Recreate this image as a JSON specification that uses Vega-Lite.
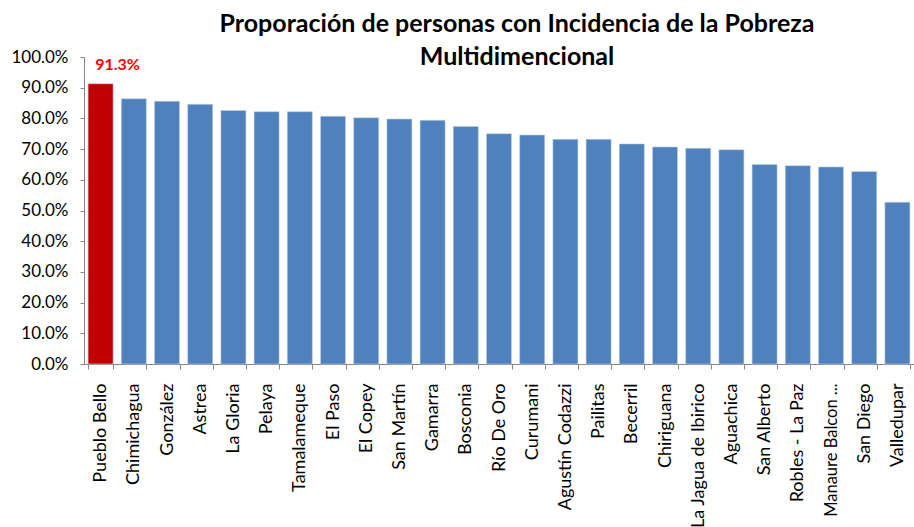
{
  "$schema": "https://vega.github.io/schema/vega-lite/v6.json",
  "width": 830,
  "height": 307,
  "autosize": {"type": "none"},
  "padding": {"left": 84, "top": 57, "right": 0, "bottom": 163},
  "background": "white",
  "title": {
    "text": ["Proporación de personas con Incidencia de la Pobreza", "Multidimencional"],
    "font": "Lato",
    "fontSize": 25,
    "fontWeight": "bold",
    "color": "#000000",
    "anchor": "middle",
    "frame": "group",
    "dx": 18,
    "lineHeight": 33,
    "offset": -22
  },
  "config": {
    "view": {"stroke": null},
    "font": "Lato"
  },
  "data": {
    "values": [
      {"municipio": "Pueblo Bello", "valor": 0.913},
      {"municipio": "Chimichagua", "valor": 0.864},
      {"municipio": "González", "valor": 0.856},
      {"municipio": "Astrea", "valor": 0.846},
      {"municipio": "La Gloria", "valor": 0.826},
      {"municipio": "Pelaya", "valor": 0.822},
      {"municipio": "Tamalameque", "valor": 0.822},
      {"municipio": "El Paso", "valor": 0.807},
      {"municipio": "El Copey", "valor": 0.802},
      {"municipio": "San Martín", "valor": 0.798},
      {"municipio": "Gamarra", "valor": 0.794},
      {"municipio": "Bosconia", "valor": 0.774},
      {"municipio": "Río De Oro", "valor": 0.750},
      {"municipio": "Curumani", "valor": 0.746},
      {"municipio": "Agustín Codazzi", "valor": 0.732},
      {"municipio": "Pailitas", "valor": 0.732},
      {"municipio": "Becerril", "valor": 0.717},
      {"municipio": "Chiriguana", "valor": 0.707},
      {"municipio": "La Jagua de Ibirico", "valor": 0.703},
      {"municipio": "Aguachica", "valor": 0.698},
      {"municipio": "San Alberto", "valor": 0.650},
      {"municipio": "Robles - La Paz", "valor": 0.646},
      {"municipio": "Manaure Balcon ...", "valor": 0.642},
      {"municipio": "San Diego", "valor": 0.627},
      {"municipio": "Valledupar", "valor": 0.527}
    ]
  },
  "encoding": {
    "x": {
      "field": "municipio",
      "type": "nominal",
      "sort": null,
      "title": null,
      "scale": {"paddingInner": 0.246, "paddingOuter": 0.123},
      "axis": {
        "labelAngle": -90,
        "labelAlign": "right",
        "labelBaseline": "middle",
        "labelFontSize": {"condition": {"test": "datum.label === 'Manaure Balcon ...'", "value": 16.5}, "value": 18},
        "labelColor": "#000000",
        "labelPadding": 14,
        "tickBand": "extent",
        "tickSize": 5,
        "tickColor": "#868686",
        "domainColor": "#868686",
        "labelLimit": 200
      }
    },
    "y": {
      "field": "valor",
      "type": "quantitative",
      "title": null,
      "scale": {"domain": [0, 1], "nice": false},
      "axis": {
        "format": ".1%",
        "values": [0, 0.1, 0.2, 0.3, 0.4, 0.5, 0.6, 0.7, 0.8, 0.9, 1.0],
        "grid": false,
        "labelFontSize": 17,
        "labelColor": "#000000",
        "labelPadding": 12,
        "tickSize": 4,
        "tickColor": "#868686",
        "domainColor": "#868686"
      }
    }
  },
  "layer": [
    {
      "mark": {"type": "bar", "stroke": "#C5D4EA", "strokeWidth": 0.6},
      "encoding": {
        "color": {
          "condition": {"test": "datum.municipio === 'Pueblo Bello'", "value": "#C00000"},
          "value": "#4F81BD"
        }
      }
    },
    {
      "transform": [{"filter": "datum.municipio === 'Pueblo Bello'"}],
      "mark": {"type": "text", "dy": -19, "dx": 17, "fontSize": 16, "fontWeight": "bold", "color": "#FF0000", "baseline": "middle"},
      "encoding": {
        "text": {"field": "valor", "type": "quantitative", "format": ".1%"}
      }
    }
  ]
}
